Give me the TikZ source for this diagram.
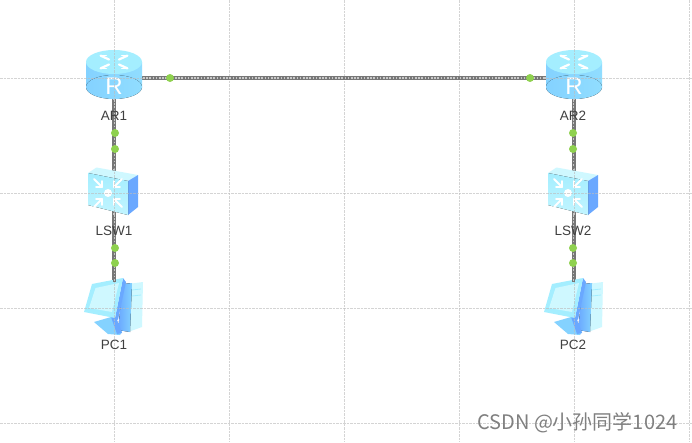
\documentclass[tikz,border=0pt]{standalone}
\usepackage{fontspec}
\setmainfont{Liberation Sans}
\newfontfamily\cjkwm{Noto Sans CJK SC}
\usetikzlibrary{calc}
\definecolor{gridc}{HTML}{BDBDBD}
\definecolor{linkd}{HTML}{777777}
\definecolor{linkl}{HTML}{C8C8C8}
\definecolor{dotg}{HTML}{8FD14F}
\definecolor{icona}{HTML}{A4EEFF}
\definecolor{iconb}{HTML}{84D2FF}
\definecolor{iconc}{HTML}{CFF8FF}
\definecolor{icond}{HTML}{6AA8FF}
\tikzset{
  x=1pt,y=-1pt,
  anchorbox/.style={inner sep=0pt,minimum size=2pt},
  gridline/.style={gridc,opacity=0.65,line width=0.8pt,dash pattern=on 2.5pt off 1pt},
  linkouter/.style={linkd,line width=3.4pt},
  linkinner/.style={linkl,line width=1.2pt,dash pattern=on 1.6pt off 1.6pt},
  portdot/.style={circle,fill=dotg,inner sep=0pt,minimum size=8pt},
  devlabel/.style={font=\fontsize{13.5}{15}\selectfont,text=black!75},
  whiteglyph/.style={white,line width=1.5pt,line cap=round},
  router/.pic={
    \fill[left color=iconb,right color=iconb!60!icona] (-28,-16) rectangle (28,9);
    \fill[left color=iconb,right color=iconb!60!icona] (0,9) ellipse[x radius=28,y radius=12];
    \fill[icona] (0,-16) ellipse[x radius=28,y radius=12];
    \foreach \a in {45,135,225,315}{
      \draw[whiteglyph,line width=2.2pt] ($(0,-16)+({7*cos(\a)},{3.5*sin(\a)})$) -- ($(0,-16)+({19*cos(\a)},{9*sin(\a)})$);
      \draw[whiteglyph,line width=1.6pt] ($(0,-16)+({19*cos(\a)},{9*sin(\a)})$) -- ($(0,-16)+({11*cos(\a)},{9*sin(\a)})$);
    }
    \node[text=white,inner sep=0pt,font=\fontsize{24}{24}\selectfont] at (0,8) {R};
  },
  switchicon/.pic={
    \fill[iconc] (-26,-20) -- (-17.5,-25.5) -- (24,-18) -- (14,-12) -- cycle;
    \fill[icond] (14,-12) -- (24,-18) -- (24,14) -- (14,22) -- cycle;
    \fill[top color=icona,bottom color=iconc!70!icona] (-26,-20) -- (14,-12) -- (14,22) -- (-26,12) -- cycle;
    \fill[white] (-6,0) circle[radius=4];
    \foreach \dx/\dy in {-1/-1,1/-1,-1/1,1/1}{
      \draw[whiteglyph,line width=2pt] ($(-6,0)+(\dx*6,\dy*6)$) -- ($(-6,0)+(\dx*14,\dy*14)$);
      \draw[whiteglyph,line width=1.6pt] ($(-6,0)+(\dx*6,\dy*6)$) -- ($(-6,0)+(\dx*6,\dy*12)$);
      \draw[whiteglyph,line width=1.6pt] ($(-6,0)+(\dx*6,\dy*6)$) -- ($(-6,0)+(\dx*12,\dy*6)$);
    }
  },
  pcicon/.pic={
    \fill[iconc] (14,-24) -- (29,-26) -- (28,19) -- (14,24) -- cycle;
    \draw[icona,line width=0.8pt] (18,-18) -- (27,-19) (18,-12) -- (27,-13);
    \fill[left color=icond,right color=iconb] (9,-24) -- (18,-25) -- (16,24) -- (4,22) -- cycle;
    \fill[iconb] (-20,14) -- (-3,9) -- (8,24) -- (6,27) -- (-6,26) -- cycle;
    \fill[icond] (-3,9) -- (2,9) -- (8,25) -- (3,26) -- cycle;
    \fill[icond] (9,-30) -- (12,-26) -- (4,12) -- (1,10) -- cycle;
    \fill[icona] (-22,-24) -- (9,-30) -- (1,10) -- (-30,4) -- cycle;
    \fill[iconc] (-18.5,-20) -- (5,-25) -- (-2,4) -- (-25,0) -- cycle;
  },
}
\begin{document}
\begin{tikzpicture}
\useasboundingbox (0,0) rectangle (692,442);
\fill[white] (0,0) rectangle (692,442);
% device anchors
\node[anchorbox] (AR1) at (114,78) {};
\node[anchorbox] (AR2) at (574,78) {};
\node[anchorbox] (LSW1) at (114,193) {};
\node[anchorbox] (LSW2) at (574,193) {};
\node[anchorbox] (PC1) at (114,308) {};
\node[anchorbox] (PC2) at (574,308) {};
% links
\foreach \a/\b in {AR1/AR2,AR1/LSW1,LSW1/PC1,AR2/LSW2,LSW2/PC2}{
  \draw[linkouter] (\a) -- (\b);
  \draw[linkinner] (\a) -- (\b);
}
% icons
\pic at (AR1) {router};
\pic at (AR2) {router};
\pic at (LSW1) {switchicon};
\pic at (LSW2) {switchicon};
\pic at (PC1) {pcicon};
\pic at (PC2) {pcicon};
% grid
\foreach \gx in {114,229,344,459,574,689}{
  \draw[gridline] (\gx,0) -- (\gx,442);
}
\foreach \gy in {78,193,308,423}{
  \draw[gridline] (0,\gy) -- (692,\gy);
}
% redraw link segments over the grid lines
\draw[linkouter] (143,78) -- (545,78);
\draw[linkinner] (143,78) -- (545,78);
\foreach \ya/\yb in {100/167,215/282}{
  \draw[linkouter] (114.5,\ya) -- (114.5,\yb);
  \draw[linkinner] (114.5,\ya) -- (114.5,\yb);
  \draw[linkouter] (573.5,\ya) -- (573.5,\yb);
  \draw[linkinner] (573.5,\ya) -- (573.5,\yb);
}
% port dots
\foreach \n/\px/\py in {d1/170/78,d2/530/78,d3/115/133,d4/115/149,d5/115/248,d6/115/263,d7/573/133,d8/573/149,d9/573/248,d10/573/263}{
  \node[portdot] (\n) at (\px,\py) {};
}
% labels
\node[devlabel] (tAR1) at (114,116) {AR1};
\node[devlabel] (tAR2) at (573,116) {AR2};
\node[devlabel] (tLSW1) at (114,231) {LSW1};
\node[devlabel] (tLSW2) at (573,231) {LSW2};
\node[devlabel] (tPC1) at (114,345) {PC1};
\node[devlabel] (tPC2) at (573,345) {PC2};
\node[text=black!50,font=\cjkwm\fontsize{20}{22}\selectfont,anchor=west,inner sep=0pt] (wm) at (477,423) {CSDN @小孙同学1024};
\end{tikzpicture}
\end{document}
